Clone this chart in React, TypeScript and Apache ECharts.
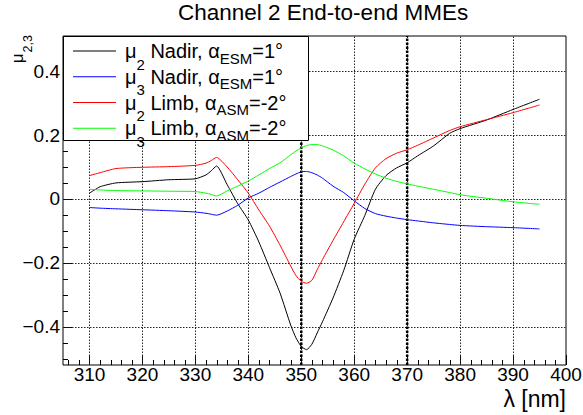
import React, { useEffect, useRef } from 'react';
import * as echarts from 'echarts';

// ---- data ----
const lambda = [310, 312, 315, 320, 325, 330, 332, 333, 334, 336, 338, 340, 342, 344, 346, 348, 349, 350, 351, 352, 353, 354, 356, 358, 360, 362, 364, 366, 368, 370, 372, 375, 378, 380, 385, 390, 395];
const mu2Nadir = [0.018, 0.038, 0.050, 0.054, 0.060, 0.063, 0.075, 0.088, 0.103, 0.045, -0.015, -0.066, -0.135, -0.215, -0.295, -0.395, -0.435, -0.462, -0.472, -0.455, -0.420, -0.385, -0.310, -0.225, -0.126, -0.052, 0.030, 0.073, 0.097, 0.113, 0.135, 0.166, 0.205, 0.220, 0.247, 0.280, 0.312];
const mu3Nadir = [-0.027, -0.029, -0.031, -0.034, -0.037, -0.041, -0.045, -0.048, -0.051, -0.038, -0.020, 0.003, 0.018, 0.036, 0.053, 0.070, 0.078, 0.085, 0.086, 0.082, 0.075, 0.065, 0.040, 0.020, -0.006, -0.030, -0.046, -0.054, -0.060, -0.065, -0.069, -0.075, -0.080, -0.083, -0.087, -0.090, -0.094];
const mu2Limb = [0.073, 0.082, 0.095, 0.099, 0.101, 0.105, 0.112, 0.120, 0.130, 0.100, 0.060, 0.018, -0.035, -0.085, -0.145, -0.210, -0.240, -0.258, -0.264, -0.255, -0.222, -0.190, -0.130, -0.072, -0.014, 0.046, 0.097, 0.126, 0.143, 0.154, 0.168, 0.191, 0.214, 0.226, 0.248, 0.270, 0.294];
const mu3Limb = [0.030, 0.028, 0.026, 0.025, 0.024, 0.023, 0.018, 0.014, 0.009, 0.025, 0.040, 0.056, 0.075, 0.095, 0.113, 0.138, 0.150, 0.160, 0.167, 0.170, 0.170, 0.166, 0.153, 0.135, 0.112, 0.094, 0.078, 0.065, 0.055, 0.047, 0.040, 0.030, 0.020, 0.013, 0.002, -0.009, -0.017];

const seriesNames = ['μ2 Nadir, αESM=1°', 'μ3 Nadir, αESM=1°', 'μ2 Limb, αASM=-2°', 'μ3 Limb, αASM=-2°'];
const seriesValues = [mu2Nadir, mu3Nadir, mu2Limb, mu3Limb];
const seriesColors = ['#000000', '#0000ff', '#ff0000', '#00ff00'];

const xGridLines = [310, 320, 330, 340, 350, 360, 370, 380, 390];
const yGridLines = [-0.4, -0.2, 0, 0.2, 0.4];
const markedWavelengths = [350, 370];
const xMajorStep = 10;
const xMinorStep = 2;
const yMajorStep = 0.2;
const yMinorStep = 0.05;

const titleText = 'Channel 2 End-to-end MMEs';
const xAxisTitle = 'λ [nm]';
const yAxisTitle = ['μ', '2,3'];

const X_MIN = 305;
const X_MAX = 400;
const Y_MIN = -0.52;
const Y_MAX = 0.51;

const FONT = '"Liberation Sans", Arial, Helvetica, sans-serif';

// kinds of decoration items drawn by the custom series
const K_MINOR = 0;
const K_MAJOR = 1;
const K_GRID = 2;
const K_MARK = 3;

function isMultiple(v: number, step: number) {
  const r = v / step;
  return Math.abs(r - Math.round(r)) < 1e-6;
}

export default function App() {
  const ref = useRef<HTMLDivElement>(null);

  useEffect(() => {
    if (!ref.current) return;
    const chart = echarts.init(ref.current, null, { renderer: 'svg' });

    const cv = document.createElement('canvas');
    const ctx = cv.getContext('2d') as CanvasRenderingContext2D;
    const tw = (s: string, size: number) => {
      ctx.font = `${size}px ${FONT}`;
      return ctx.measureText(s).width;
    };

    // [value, axis (0 = x, 1 = y), kind]
    const decoData: number[][] = [];
    xGridLines.forEach((v) => decoData.push([v, 0, K_GRID]));
    yGridLines.forEach((v) => decoData.push([v, 1, K_GRID]));
    for (let v = X_MIN + 1; v <= X_MAX + 1e-9; v += xMinorStep) {
      decoData.push([v, 0, isMultiple(v, xMajorStep) ? K_MAJOR : K_MINOR]);
    }
    for (let k = Math.ceil(Y_MIN / yMinorStep); k * yMinorStep <= Y_MAX + 1e-9; k++) {
      const v = Math.round(k * yMinorStep * 1000) / 1000;
      decoData.push([v, 1, isMultiple(v, yMajorStep) ? K_MAJOR : K_MINOR]);
    }
    markedWavelengths.forEach((v) => decoData.push([v, 0, K_MARK]));

    // ---- legend drawn as graphic elements (ROOT-like sub-scripts) ----
    const MAIN = 20;
    const SUB = 15;
    const legendEls: any[] = [
      {
        type: 'rect',
        z: 5,
        silent: true,
        shape: { x: 63.5, y: 36.5, width: 245, height: 104 },
        style: { fill: '#fff', stroke: '#000', lineWidth: 1 },
      },
    ];
    seriesNames.forEach((name, i) => {
      const rowY = 51 + i * 25.75;
      legendEls.push({
        type: 'line',
        z: 6,
        silent: true,
        shape: { x1: 73, y1: rowY, x2: 116, y2: rowY },
        style: { stroke: seriesColors[i], lineWidth: 1 },
      });
      const m = name.match(/^(μ)(\d)( \w+, α)(\w+)(=.*)$/);
      const pieces: [string, number, number][] = m
        ? [
            [m[1], MAIN, 0],
            [m[2], SUB, 13],
            [m[3], MAIN, 0],
            [m[4], SUB, 7],
            [m[5], MAIN, 0],
          ]
        : [[name, MAIN, 0]];
      let x = 125;
      pieces.forEach(([text, size, dy]) => {
        legendEls.push({
          type: 'text',
          z: 6,
          silent: true,
          x,
          y: rowY + dy,
          style: { text, fontSize: size, fontFamily: FONT, fill: '#000', align: 'left', verticalAlign: 'middle' },
        });
        x += tw(text, size);
      });
    });

    // y-axis title, rotated, with its sub-script
    const Y_MU = 17;
    const Y_SUB = 12.5;
    const subW = tw(yAxisTitle[1], Y_SUB);
    const yTitle = {
      type: 'group',
      x: 17,
      y: 35,
      rotation: Math.PI / 2,
      z: 6,
      silent: true,
      children: [
        { type: 'text', x: -(subW + 1), y: 0, style: { text: yAxisTitle[0], fontSize: Y_MU, fontFamily: FONT, fill: '#000', align: 'right', verticalAlign: 'middle' } },
        { type: 'text', x: 0, y: 10.5, style: { text: yAxisTitle[1], fontSize: Y_SUB, fontFamily: FONT, fill: '#000', align: 'right', verticalAlign: 'middle' } },
      ],
    };

    const xTitle = {
      type: 'text',
      x: 566,
      y: 398.5,
      z: 6,
      silent: true,
      style: { text: xAxisTitle, fontSize: 23, fontFamily: FONT, fill: '#000', align: 'right', verticalAlign: 'middle' },
    };

    const gridDash = [1.5, 1.5];

    const option: any = {
      animation: false,
      backgroundColor: '#fff',
      title: {
        text: titleText,
        left: 178,
        top: 1,
        padding: 0,
        textStyle: { fontFamily: FONT, fontSize: 22.5, fontWeight: 'normal', color: '#000' },
      },
      grid: {
        left: 63,
        right: 17,
        top: 36,
        bottom: 50,
        show: true,
        borderColor: '#000',
        borderWidth: 1,
        backgroundColor: 'transparent',
        containLabel: false,
        outerBoundsMode: 'none',
      },
      legend: { show: false },
      xAxis: {
        type: 'value',
        min: X_MIN,
        max: X_MAX,
        interval: 5,
        axisLine: { show: false, onZero: false },
        axisTick: { show: false },
        splitLine: { show: false },
        axisLabel: {
          margin: 0,
          fontFamily: FONT,
          fontSize: 19,
          color: '#000',
          formatter: (v: number) => (isMultiple(v, xMajorStep) ? String(Math.round(v)) : ''),
        },
      },
      yAxis: {
        type: 'value',
        min: Y_MIN,
        max: Y_MAX,
        interval: 0.04,
        axisLine: { show: false, onZero: false },
        axisTick: { show: false },
        splitLine: { show: false },
        axisLabel: {
          margin: 3,
          fontFamily: FONT,
          fontSize: 19,
          color: '#000',
          formatter: (v: number) => {
            if (!isMultiple(v, yMajorStep)) return '';
            const r = Math.round(v * 10) / 10;
            if (r === 0) return '0';
            return (r < 0 ? '\u2212' : '') + Math.abs(r).toFixed(1);
          },
        },
      },
      graphic: [...legendEls, yTitle, xTitle],
      series: [
        {
          type: 'custom',
          name: 'frame decorations',
          silent: true,
          z: 1,
          data: decoData,
          renderItem: (_params: any, api: any) => {
            const v = api.value(0);
            const axis = api.value(1);
            const kind = api.value(2);
            const crisp = (c: number) => Math.round(c) + 0.5;
            if (kind === K_GRID || kind === K_MARK) {
              const a = axis === 0 ? api.coord([v, Y_MIN]) : api.coord([X_MIN, v]);
              const b = axis === 0 ? api.coord([v, Y_MAX]) : api.coord([X_MAX, v]);
              const thick = kind === K_MARK;
              const shape = axis === 0
                ? { x1: thick ? a[0] : crisp(a[0]), y1: a[1], x2: thick ? b[0] : crisp(b[0]), y2: b[1] }
                : { x1: a[0], y1: crisp(a[1]), x2: b[0], y2: crisp(b[1]) };
              return {
                type: 'line',
                z2: thick ? 5 : 1,
                shape,
                style: thick
                  ? { stroke: '#000', lineWidth: 2.5, lineDash: [2.5, 1.5] }
                  : { stroke: '#222', lineWidth: 1, lineDash: gridDash },
              };
            }
            const major = kind === K_MAJOR;
            if (axis === 0) {
              const p = api.coord([v, Y_MIN]);
              const len = major ? 10 : 5;
              const x = crisp(p[0]);
              return { type: 'line', shape: { x1: x, y1: p[1], x2: x, y2: p[1] - len }, style: { stroke: '#000', lineWidth: 1 } };
            }
            const p = api.coord([X_MIN, v]);
            const len = major ? 9 : 5;
            const y = crisp(p[1]);
            return { type: 'line', shape: { x1: p[0], y1: y, x2: p[0] + len, y2: y }, style: { stroke: '#000', lineWidth: 1 } };
          },
        },
        ...seriesNames.map((name, i) => ({
          type: 'line',
          name,
          data: lambda.map((x, j) => [x, seriesValues[i][j]]),
          symbol: 'none',
          smooth: 0.2,
          z: 3,
          lineStyle: { color: seriesColors[i], width: 1 },
          itemStyle: { color: seriesColors[i] },
        })),
      ],
    };

    chart.setOption(option);
    return () => chart.dispose();
  }, []);

  return <div ref={ref} style={{ position: 'fixed', left: 0, top: 0, width: 583, height: 415 }} />;
}
